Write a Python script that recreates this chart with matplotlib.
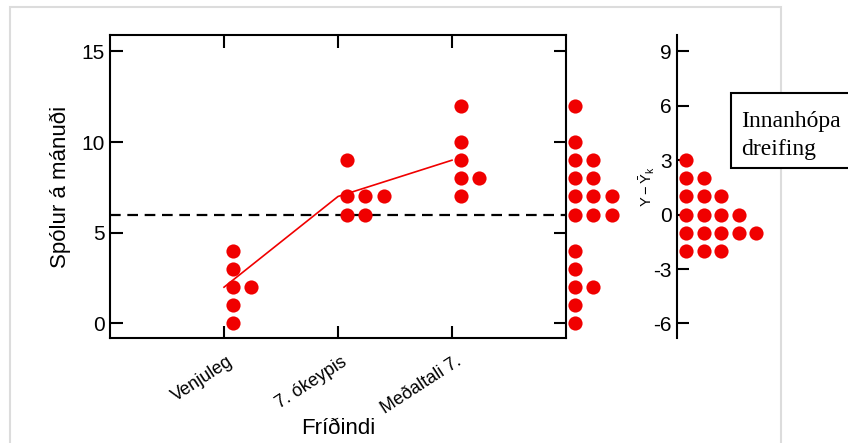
import numpy as np
import matplotlib
matplotlib.use("Agg")
import matplotlib.pyplot as plt
import matplotlib.transforms as mtransforms
from matplotlib.patches import Rectangle

plt.rcParams["font.family"] = ["Liberation Sans", "DejaVu Sans"]
plt.rcParams["axes.unicode_minus"] = False
plt.rcParams["mathtext.fontset"] = "custom"
plt.rcParams["mathtext.rm"] = "Liberation Sans"
plt.rcParams["mathtext.it"] = "Liberation Sans:italic"

# --- data -------------------------------------------------------------
categories = ["Venjuleg", "7. ókeypis", "Meðaltali 7."]
venjuleg = [4, 3, 2, 2, 1, 0]
okeypis = [9, 7, 7, 7, 6, 6]
medaltali = [12, 10, 9, 8, 8, 7]
pooled = [12, 10, 9, 9, 8, 8, 7, 7, 7, 6, 6, 6, 4, 3, 2, 2, 1, 0]
residuals = [3, 2, 2, 1, 1, 1, 0, 0, 0, 0, -1, -1, -1, -1, -1, -2, -2, -2]
main_yticks = [0, 5, 10, 15]
resid_yticks = [-6, -3, 0, 3, 6, 9]

groups = [venjuleg, okeypis, medaltali]
group_means = [np.mean(g) for g in groups]
grand_mean = np.mean(np.concatenate(groups))

RED = "#f00000"
DOT_MS = 10.2
W, H = 848, 443


def px_rect(left, top, right, bottom):
    return [left / W, 1 - bottom / H, (right - left) / W, (bottom - top) / H]


def stacked(values):
    """Return a column index for each value so equal values sit side by side."""
    seen = {}
    cols = []
    for v in values:
        cols.append(seen.get(v, 0))
        seen[v] = seen.get(v, 0) + 1
    return np.array(cols)


fig = plt.figure(figsize=(W / 100, H / 100), dpi=100)

# light frame around the figure
fig.patches.append(Rectangle((10 / W, -0.2), (781 - 10) / W, 1.2 - 7 / H,
                             transform=fig.transFigure, fill=False,
                             ec="#dcdcdc", lw=1.5, zorder=0))

ax = fig.add_axes(px_rect(110, 35, 566, 338))
ax2 = fig.add_axes(px_rect(677, 35, 800, 338))

# --- main panel -------------------------------------------------------
step, offset = 0.16, 0.08
for i, vals in enumerate(groups, start=1):
    cols = stacked(vals)
    ax.plot(i + offset + cols * step, vals, "o", color=RED, ms=DOT_MS,
            mec="none", clip_on=False, zorder=3)

cols = stacked(pooled)
ax.plot(4 + offset + cols * step, pooled, "o", color=RED, ms=DOT_MS,
        mec="none", clip_on=False, zorder=3)

ax.plot([1, 2, 3], group_means, color=RED, lw=1.2, zorder=2)
ax.axhline(grand_mean, color="black", lw=1.6, ls=(0, (4.8, 3)), zorder=1)

ax.set_xlim(0, 4)
ax.set_ylim(-0.8, 15.9)
ax.set_yticks(main_yticks)
ax.set_xticks([1, 2, 3])
ax.set_xticklabels(categories)
for s in ax.spines.values():
    s.set_linewidth(1.5)
ax.tick_params(direction="in", length=9, width=1.5, top=True, right=True,
               labelsize=15, pad=4)
ax.tick_params(axis="x", labelsize=13, pad=11)
shift = mtransforms.ScaledTranslation(3 / 100, 0, fig.dpi_scale_trans)
for lab in ax.get_xticklabels():
    lab.set_rotation(33)
    lab.set_ha("right")
    lab.set_rotation_mode("anchor")
    lab.set_transform(lab.get_transform() + shift)

ax.set_ylabel("Spólur á mánuði", fontsize=16)
ax.yaxis.set_label_coords(-0.0855, 0.5)
ax.set_xlabel("Fríðindi", fontsize=16)
ax.xaxis.set_label_coords(0.5, -0.265)

# --- residual panel ---------------------------------------------------
rcols = stacked(residuals)
ax2.plot(0.53 + rcols, residuals, "o", color=RED, ms=DOT_MS, mec="none",
         clip_on=False, zorder=3)
ax2.set_xlim(0, 123 / 17.5)
ax2.set_ylim(-0.8 - grand_mean, 15.9 - grand_mean)
ax2.set_yticks(resid_yticks)
ax2.set_xticks([])
for side in ("top", "right", "bottom"):
    ax2.spines[side].set_visible(False)
ax2.spines["left"].set_linewidth(1.5)
ax2.patch.set_visible(False)
ax2.tick_params(axis="y", direction="in", length=8.5, width=1.5,
                labelsize=15, pad=4)
ax2.set_ylabel(r"$\mathrm{Y - \bar{Y}_k}$", fontsize=10.5)
ax2.yaxis.set_label_coords(-0.165, 0.5)

# --- annotation box ---------------------------------------------------
fig.patches.append(Rectangle((731 / W, 1 - 168 / H), 200 / W, 75 / H,
                             transform=fig.transFigure, fc="white",
                             ec="black", lw=1.5, zorder=5))
for line, base in (("Innanhópa", 127), ("dreifing", 155)):
    fig.text(741 / W, 1 - base / H, line, family="Liberation Serif",
             fontsize=17, va="baseline", ha="left", zorder=6)

fig.savefig("out.png", dpi=100)
